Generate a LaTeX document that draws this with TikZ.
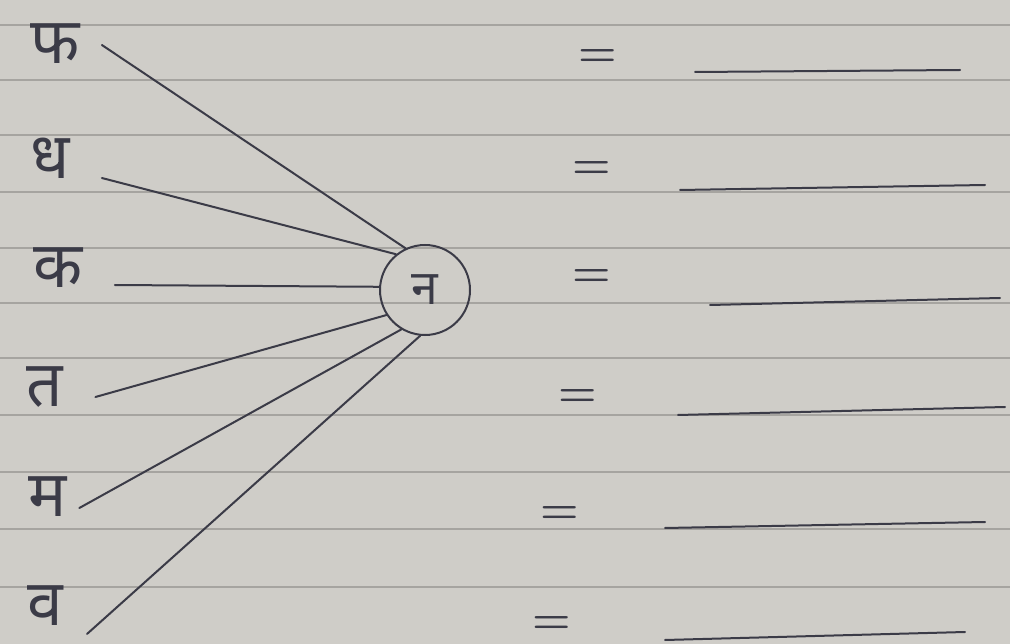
\documentclass[tikz,border=0pt]{standalone}
\usepackage{fontspec}
\newfontfamily\devfont[Script=Devanagari]{Noto Sans}
\definecolor{paper}{HTML}{CFCDC8}
\definecolor{rule}{HTML}{A6A4A0}
\definecolor{inkgrey}{HTML}{3B3B47}

\begin{document}
\begin{tikzpicture}[x=1pt,y=-1pt,
    ink/.style={draw=inkgrey, line width=2pt, line cap=round},
    akshar/.style={font=\devfont\fontsize{64}{64}\selectfont, text=inkgrey, inner sep=0pt},
    equal/.style={font=\bfseries\fontsize{44}{44}\selectfont, text=inkgrey, inner sep=0pt}]
  \useasboundingbox[fill=paper] (0,0) rectangle (1010,644);
  % ruled lines of the notebook page
  \foreach \y in {25,80,135,192,248,303,358,415,472,529,587}
    \draw[rule, line width=1.2pt] (0,\y) -- (1010,\y);
  % letters on the left
  \node[akshar] (lph) at (55,44) {फ};
  \node[akshar] (ldh) at (50,158) {ध};
  \node[akshar] (lka) at (58,268) {क};
  \node[akshar] (lta) at (45,387) {त};
  \node[akshar] (lma) at (48,497) {म};
  \node[akshar, text depth=0pt] (lva) at (45,606) {व};
  % common letter in the middle
  \node[draw=inkgrey, line width=2pt, circle, minimum size=90pt, inner sep=0pt,
        font=\devfont\fontsize{48}{48}\selectfont, text=inkgrey] (na) at (425,290) {न};
  % connectors
  \draw[ink] ([shift={(22,1)}]lph.east) -- (na.115);
  \draw[ink] ([shift={(32,20)}]ldh.east) -- (na.129);
  \draw[ink] ([shift={(32,17)}]lka.east) -- (na.176);
  \draw[ink] ([shift={(32,10)}]lta.east) -- (na.213);
  \draw[ink] ([shift={(12,11)}]lma.east) -- (na.239);
  \draw[ink] ([shift={(24,28)}]lva.east) -- (na.264);
  % equals signs and blanks
  \foreach \x/\y in {598/58,592/170,592/278,578/398,560/515,552/625}
    \node[equal] at (\x,\y) {=};
  \draw[ink] (695,72) -- (960,70);
  \draw[ink] (680,190) -- (985,185);
  \draw[ink] (710,305) -- (1000,298);
  \draw[ink] (678,415) -- (1005,407);
  \draw[ink] (665,528) -- (985,522);
  \draw[ink] (665,640) -- (965,632);
\end{tikzpicture}
\end{document}
